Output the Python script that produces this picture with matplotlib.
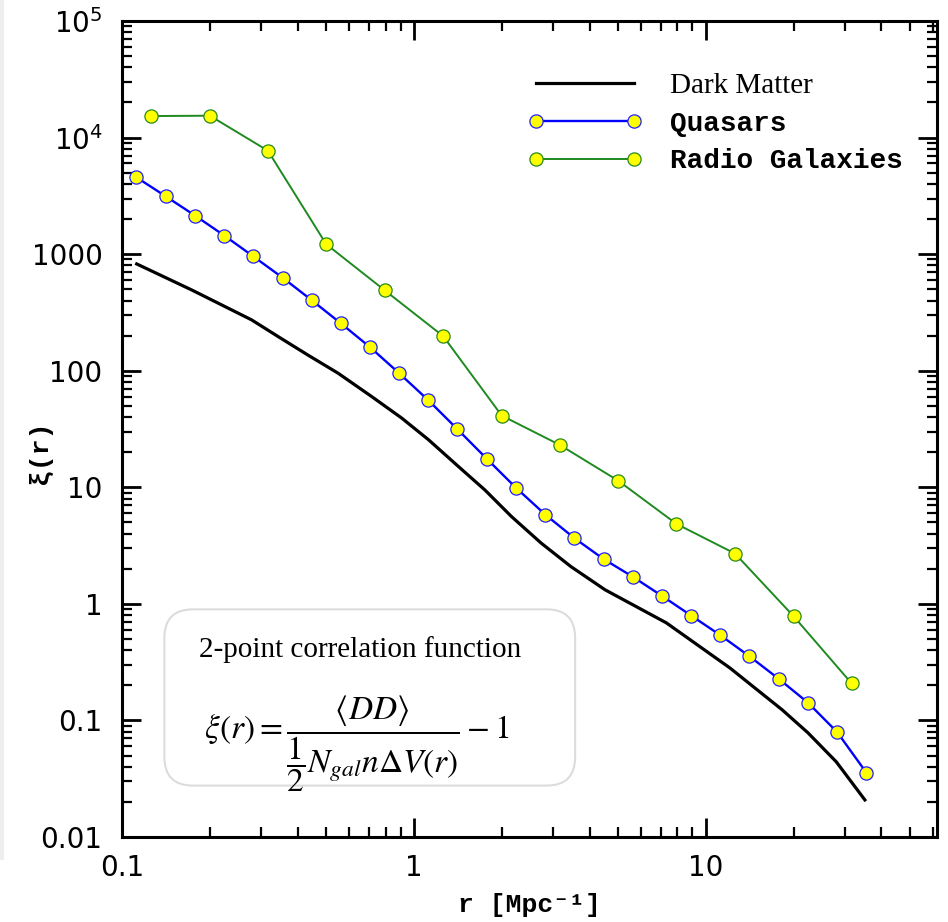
import matplotlib
matplotlib.use("Agg")
import matplotlib.pyplot as plt
import numpy as np
from matplotlib.patches import FancyBboxPatch, Rectangle
from matplotlib.ticker import FixedLocator, FixedFormatter, LogLocator, NullFormatter

# ---------------- data ----------------
quasar_r = [0.112, 0.141, 0.178, 0.224, 0.282, 0.355, 0.447, 0.562, 0.708, 0.891,
            1.12, 1.41, 1.78, 2.24, 2.82, 3.55, 4.47, 5.62, 7.08, 8.91,
            11.2, 14.1, 17.8, 22.4, 28.2, 35.5]
quasar_xi = [4565, 3140, 2140, 1445, 955, 628, 402, 255, 159, 95,
             55.9, 31.5, 17.5, 9.88, 5.83, 3.66, 2.42, 1.71, 1.17, 0.794,
             0.540, 0.356, 0.227, 0.142, 0.0794, 0.0357]

radio_r = [0.126, 0.200, 0.316, 0.501, 0.794, 1.26, 2.00, 3.16, 5.01, 7.94, 12.6, 20.0, 31.6]
radio_xi = [15300, 15400, 7720, 1216, 490, 198, 41.2, 23.1, 11.4, 4.85, 2.70, 0.783, 0.208]

dm_r = [0.1123, 0.1733, 0.278, 0.343, 0.434, 0.550, 0.717, 0.909, 1.124, 1.42,
        1.75, 2.16, 2.73, 3.45, 4.52, 7.33, 12.1, 18.3, 22.4, 28.0, 35.1]
dm_xi = [824, 493, 273, 196, 136, 95.2, 60.0, 39.2, 25.5, 15.1,
         9.50, 5.61, 3.32, 2.09, 1.32, 0.687, 0.282, 0.123, 0.0783, 0.0442, 0.0208]

ytick_vals = [0.01, 0.1, 1, 10, 100, 1000, 1e4, 1e5]
ytick_labels = ["0.01", "0.1", "1", "10", "100", "1000", r"$\mathregular{10^4}$", r"$\mathregular{10^5}$"]
xtick_vals = [0.1, 1, 10]
xtick_labels = ["0.1", "1", "10"]

mono = ["Liberation Mono", "DejaVu Sans Mono"]
plt.rcParams["mathtext.fontset"] = "stix"

# ---------------- figure ----------------
W, H = 948, 922
fig = plt.figure(figsize=(W / 100, H / 100), dpi=100)
fig.patches.append(Rectangle((0, 0.067), 4 / W, 0.933, transform=fig.transFigure,
                             facecolor="#eeeeee", edgecolor="none"))
ax = fig.add_axes([122 / W, 1 - 837 / H, (937 - 122) / W, (837 - 21) / H])

ax.plot(dm_r, dm_xi, color="black", lw=2.3, label="Dark Matter", zorder=2)
ax.plot(quasar_r, quasar_xi, color="#0000ff", lw=1.7, marker="o", ms=9.5,
        mfc="#ffff00", mec="#2020ff", mew=0.9, label="Quasars", zorder=3)
ax.plot(radio_r, radio_xi, color="#1f8a1f", lw=1.4, marker="o", ms=9.5,
        mfc="#ffff00", mec="#2a8a1a", mew=0.9, label="Radio Galaxies", zorder=3)

ax.set_xscale("log")
ax.set_yscale("log")
ax.set_xlim(0.1, 62)
ax.set_ylim(0.01, 1e5)

ax.yaxis.set_major_locator(FixedLocator(ytick_vals))
ax.yaxis.set_major_formatter(FixedFormatter(ytick_labels))
ax.xaxis.set_major_locator(FixedLocator(xtick_vals))
ax.xaxis.set_major_formatter(FixedFormatter(xtick_labels))
ax.xaxis.set_minor_locator(LogLocator(base=10, subs=np.arange(2, 10)))
ax.yaxis.set_minor_locator(LogLocator(base=10, subs=np.arange(2, 10)))
ax.xaxis.set_minor_formatter(NullFormatter())
ax.yaxis.set_minor_formatter(NullFormatter())

ax.tick_params(which="both", direction="in", top=True, right=True,
               labelfontfamily="DejaVu Sans", labelsize=20, colors="black")
ax.tick_params(which="major", length=14, width=2.0)
ax.tick_params(which="minor", length=7, width=1.6)
ax.tick_params(axis="y", pad=14)
ax.tick_params(axis="x", pad=12)
for s in ax.spines.values():
    s.set_linewidth(2.2)

ax.set_xlabel("r [Mpc⁻¹]", family=mono, fontsize=19, fontweight="bold", labelpad=8)
ax.set_ylabel("ξ(r)", family=mono, fontsize=19, fontweight="bold")
ax.yaxis.set_label_coords(-0.086, 0.472)

leg = ax.legend(loc="upper left", bbox_to_anchor=((528 - 122) / 815, (837 - 73) / 816),
                frameon=False, fontsize=20, handlelength=4.1, handletextpad=1.0,
                borderpad=0, borderaxespad=0, labelspacing=0.42, numpoints=2)
texts = leg.get_texts()
texts[0].set_fontfamily("Liberation Serif")
texts[0].set_fontsize(21)
for t in texts[1:]:
    t.set_fontfamily(mono)
    t.set_fontweight("bold")

# formula box
box = FancyBboxPatch((0.052, 0.063), 0.504, 0.216, transform=ax.transAxes,
                     boxstyle="round,pad=0,rounding_size=0.035",
                     facecolor="white", edgecolor="#dcdcdc", lw=1.5, zorder=4)
ax.add_patch(box)
ax.text(0.292, 0.230, "2-point correlation function", transform=ax.transAxes,
        family="Liberation Serif", fontsize=21, ha="center", va="center", zorder=5)
ax.text(0.288, 0.114,
        r"$\xi(r) = \dfrac{\langle DD\rangle}{\dfrac{1}{2}N_{gal}n\Delta V(r)} - 1$",
        transform=ax.transAxes, fontsize=24, ha="center", va="center", zorder=5)

fig.savefig("out.png", dpi=100)
